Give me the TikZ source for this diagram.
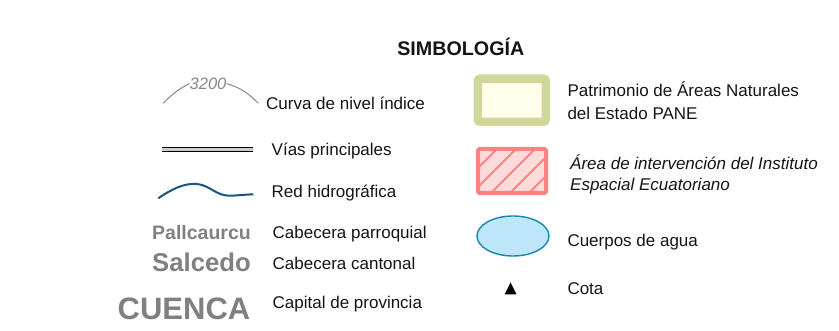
\documentclass[tikz,border=0pt]{standalone}
\usepackage{fontspec}
\setmainfont{Liberation Sans}
\definecolor{txt}{RGB}{20,20,20}
\definecolor{lblgray}{RGB}{128,128,128}
\definecolor{contour}{RGB}{135,135,135}
\definecolor{river}{RGB}{25,85,125}
\definecolor{paneborder}{RGB}{207,216,154}
\definecolor{panefill}{RGB}{255,255,236}
\definecolor{iseborder}{RGB}{255,130,130}
\definecolor{isefill}{RGB}{255,220,220}
\definecolor{waterborder}{RGB}{25,135,175}
\definecolor{waterfill}{RGB}{190,230,250}
\tikzset{
  legtext/.style={anchor=base west, inner sep=0pt, text=txt, font=\fontsize{17}{20}\selectfont},
  legit/.style={legtext, font=\fontsize{17}{20}\selectfont\itshape},
  placelbl/.style={anchor=base east, inner sep=0pt, text=lblgray},
}
\begin{document}
\begin{tikzpicture}[x=1pt,y=-1pt]
\useasboundingbox (0,0) rectangle (839,331);
% title
\node[anchor=base, inner sep=0pt, text=txt, font=\fontsize{19.7}{22}\selectfont\bfseries] (title) at (460.8,55.3) {SIMBOLOGÍA};

% contour line
\node[anchor=base west, inner sep=0pt, text=contour, font=\fontsize{16.5}{18}\selectfont\itshape] (c3200) at (189.5,89.3) {3200};
\draw[contour, line width=1pt] (163.3,103.3) .. controls (171,95) and (180,88) .. (c3200.west);
\draw[contour, line width=1pt] (c3200.east) .. controls (242,88) and (250,95) .. (258.3,103.3);
\node[legtext] (tcurva) at (266,110) {Curva de nivel índice};

% roads
\coordinate (r1) at (161.7,149.5);
\coordinate (r2) at (253.3,149.5);
\draw[black, line width=5.6pt] (r1) -- (r2);
\draw[black!20, line width=2.8pt] (r1) -- (r2);
\node[legtext] (tvias) at (271.5,156) {Vías principales};

% river
\coordinate (w1) at (158.3,198.3);
\coordinate (w2) at (253.3,194.3);
\draw[river, line width=2pt] (w1) .. controls (172,189) and (184,183) .. (196.7,184)
  .. controls (210,185) and (216,196) .. (230,195.7) .. controls (238,195.5) and (246,194.5) .. (w2);
\node[legtext] (trio) at (271.5,198) {Red hidrográfica};

% place labels
\node[placelbl, font=\fontsize{19.5}{22}\selectfont\bfseries] (pall) at (251,239.3) {Pallcaurcu};
\node[legtext] (tparr) at (272.5,238.3) {Cabecera parroquial};
\node[placelbl, font=\fontsize{25.7}{28}\selectfont\bfseries] (salc) at (251,271.7) {Salcedo};
\node[legtext] (tcant) at (272.5,270) {Cabecera cantonal};
\node[placelbl, font=\fontsize{31}{34}\selectfont\bfseries] (cuen) at (250.5,319.5) {CUENCA};
\node[legtext] (tcap) at (272.5,308.3) {Capital de provincia};

% PANE box
\draw[paneborder, fill=panefill, line width=8.4pt, rounded corners=2.5pt] (477.7,78.6) rectangle (545.8,121.8);
\node[legtext] (tpane1) at (567.3,96.7) {Patrimonio de Áreas Naturales};
\node[legtext] (tpane2) at (567.3,120) {del Estado PANE};

% ISE box
\fill[isefill] (478,149) rectangle (546,193);
\begin{scope}
  \clip (478,149) rectangle (546,193);
  \foreach \s in {0,19,...,133} {
    \draw[iseborder, line width=2pt] (478+\s-44,193) -- (478+\s,149);
  }
\end{scope}
\draw[iseborder, line width=4pt, rounded corners=1.5pt] (478,149) rectangle (546,193);
\node[legit] (tise1) at (570,170) {Área de intervención del Instituto};
\node[legit] (tise2) at (570,190.5) {Espacial Ecuatoriano};

% water body
\draw[waterborder, fill=waterfill, line width=1.4pt] (513,236) ellipse [x radius=36, y radius=20];
\node[legtext] (tagua) at (567.3,246.7) {Cuerpos de agua};

% spot height
\fill[black] (510.5,282.5) -- (516.5,294.5) -- (504.5,294.5) -- cycle;
\node[legtext] (tcota) at (567.3,294.3) {Cota};
\end{tikzpicture}
\end{document}
